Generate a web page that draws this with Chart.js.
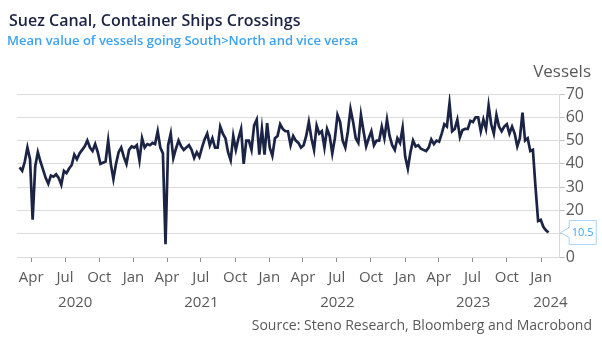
<!DOCTYPE html>
<html>
<head>
<meta charset="utf-8">
<script src="https://cdn.jsdelivr.net/npm/chart.js@4.4.1/dist/chart.umd.min.js"></script>
<style>
  html, body { margin: 0; padding: 0; background: #fff; }
</style>
</head>
<body>
<canvas id="suez" width="602" height="344"></canvas>
<script>
const titleText = 'Suez Canal, Container Ships Crossings';
const subtitleText = 'Mean value of vessels going South>North and vice versa';
const sourceText = 'Source: Steno Research, Bloomberg and Macrobond';
const unitText = 'Vessels';

// weekly readings, the first one on 2020-03-01
const firstWeek = '2020-03-01';
const crossings = [
  38.5, 37, 41, 47, 42, 16, 39, 45, 41, 37.5,
  34, 31.5, 35, 34.5, 35.5, 34, 31, 37, 36, 38,
  39.5, 44, 42, 44.5, 46, 47.5, 50, 47, 45.5, 48.5,
  45, 40, 40.5, 41, 50, 40, 33.5, 40, 45, 47,
  43, 40, 46, 47.5, 47, 48, 41.5, 51, 47, 48.5,
  48, 49, 48.5, 54, 47, 44.5, 5.5, 48, 53, 42.5,
  46.5, 50, 47.5, 46, 47, 48, 46, 42.5, 45, 43,
  47, 50.5, 53, 48, 51, 47, 47, 56, 53, 51,
  45, 41.5, 52, 46, 51, 55, 40, 50, 50, 46,
  56.5, 59, 44, 55, 44, 57.5, 47, 43.5, 51, 52,
  57, 55, 54, 54, 48, 52, 50, 49, 47, 48,
  52, 58, 51, 46, 56.5, 53, 54, 47, 55, 52,
  44.5, 51, 61, 58, 50, 47, 54, 63.5, 58, 51,
  49, 61, 54, 47.5, 51, 54, 48, 50, 50, 56,
  51, 59, 52, 48, 46, 51, 49, 55.5, 43, 38,
  45, 50, 47.5, 48, 46.5, 46, 45.5, 47, 50.5, 48.5,
  50, 49.5, 53, 57, 56, 66, 54, 55, 59, 51.5,
  54.5, 55, 55, 58.5, 58, 60, 60, 54, 59, 55,
  65, 57, 53, 61, 56, 54, 56, 57, 53, 56,
  53, 47.5, 51, 62, 50, 51, 45.5, 46, 30, 15.5,
  16, 13, 11.5, 10.5
];

const quarterNames = ['Jan', 'Apr', 'Jul', 'Oct'];
const years = [2020, 2021, 2022, 2023, 2024];
const axisStart = '2020-02-23';
const axisEnd = '2024-02-20';
const yMin = 0, yMax = 70, yStep = 10;

const DAY = 86400000;
const toDay = s => Date.parse(s) / DAY;
const xMin = toDay(axisStart);
const xMax = toDay(axisEnd);
const start = toDay(firstWeek);
const points = crossings.map((v, i) => ({ x: start + 7 * i, y: v }));
const lastValue = crossings[crossings.length - 1];

const quarterTicks = [];
years.forEach(y => {
  [0, 3, 6, 9].forEach(m => {
    const d = Date.UTC(y, m, 1) / DAY;
    if (d >= xMin && d <= xMax) quarterTicks.push({ value: d });
  });
});
const yearTicks = years.map(y => {
  const a = Math.max(xMin, Date.UTC(y, 0, 1) / DAY);
  const b = Math.min(xMax, Date.UTC(y + 1, 0, 1) / DAY);
  return { value: (a + b) / 2 };
});

const grey = '#595959';

const decorations = {
  id: 'decorations',
  beforeDraw(chart) {
    const ctx = chart.ctx;
    ctx.save();
    ctx.fillStyle = '#fff';
    ctx.fillRect(0, 0, chart.width, chart.height);
    ctx.restore();
  },
  afterDraw(chart) {
    const { ctx, chartArea, scales } = chart;
    ctx.save();
    ctx.textBaseline = 'alphabetic';
    ctx.textAlign = 'left';
    ctx.fillStyle = '#1c2445';
    ctx.font = '600 16px "Open Sans"';
    ctx.fillText(titleText, 9, 26);
    ctx.fillStyle = '#3ea2f2';
    ctx.font = '600 13px "Open Sans"';
    ctx.fillText(subtitleText, 7, 45);

    ctx.fillStyle = grey;
    ctx.textAlign = 'right';
    ctx.font = '17px "Open Sans"';
    ctx.fillText(unitText, 591, 77);
    ctx.font = '14px "Open Sans"';
    ctx.fillText(sourceText, 592, 330);

    // last value call-out
    const yv = scales.y.getPixelForValue(lastValue);
    const tip = chartArea.right + 1;
    const left = chartArea.right + 9.5;
    const right = left + 27;
    const top = yv - 12, bottom = yv + 12;
    ctx.beginPath();
    ctx.moveTo(left, top);
    ctx.lineTo(right, top);
    ctx.lineTo(right, bottom);
    ctx.lineTo(left, bottom);
    ctx.lineTo(left, yv + 5);
    ctx.lineTo(tip, yv);
    ctx.lineTo(left, yv - 5);
    ctx.closePath();
    ctx.fillStyle = '#fff';
    ctx.fill();
    ctx.strokeStyle = '#a8d4f7';
    ctx.lineWidth = 1;
    ctx.stroke();
    ctx.fillStyle = '#3ea2f2';
    ctx.textAlign = 'center';
    ctx.textBaseline = 'middle';
    ctx.font = '11px "Open Sans"';
    ctx.fillText(lastValue.toFixed(1), (left + right) / 2, yv + 0.5);
    ctx.restore();
  }
};

new Chart(document.getElementById('suez'), {
  type: 'line',
  data: {
    datasets: [{
      label: 'Container ships crossings',
      data: points,
      borderColor: '#1c2445',
      borderWidth: 2.7,
      pointRadius: 0,
      tension: 0,
      fill: false
    }]
  },
  options: {
    responsive: false,
    devicePixelRatio: 1,
    animation: false,
    layout: { padding: { top: 94, left: 17, right: 17, bottom: 32 } },
    plugins: {
      legend: { display: false },
      tooltip: { enabled: false }
    },
    scales: {
      x: {
        type: 'linear',
        min: xMin,
        max: xMax,
        weight: 0,
        afterBuildTicks: axis => { axis.ticks = quarterTicks.map(t => ({ ...t })); },
        ticks: {
          autoSkip: false,
          maxRotation: 0,
          padding: 7,
          color: grey,
          font: { family: 'Open Sans', size: 15 },
          callback: v => quarterNames[new Date(v * DAY).getUTCMonth() / 3]
        },
        grid: { drawOnChartArea: false, tickLength: 5, tickColor: '#8c8c8c' },
        border: { color: '#d9d9d9' }
      },
      x2: {
        type: 'linear',
        axis: 'x',
        position: 'bottom',
        min: xMin,
        max: xMax,
        weight: 1,
        afterBuildTicks: axis => { axis.ticks = yearTicks.map(t => ({ ...t })); },
        ticks: {
          autoSkip: false,
          maxRotation: 0,
          padding: 0,
          color: grey,
          font: { family: 'Open Sans', size: 15 },
          callback: (v, i) => String(years[i])
        },
        grid: { display: false, drawTicks: false },
        border: { display: false }
      },
      y: {
        position: 'right',
        min: yMin,
        max: yMax,
        ticks: {
          stepSize: yStep,
          padding: 1,
          color: grey,
          font: { family: 'Open Sans', size: 16 }
        },
        grid: { color: '#dcdcdc', tickLength: 5, tickColor: '#bfbfbf' },
        border: { color: '#d9d9d9' }
      }
    }
  },
  plugins: [decorations]
});
</script>
</body>
</html>
